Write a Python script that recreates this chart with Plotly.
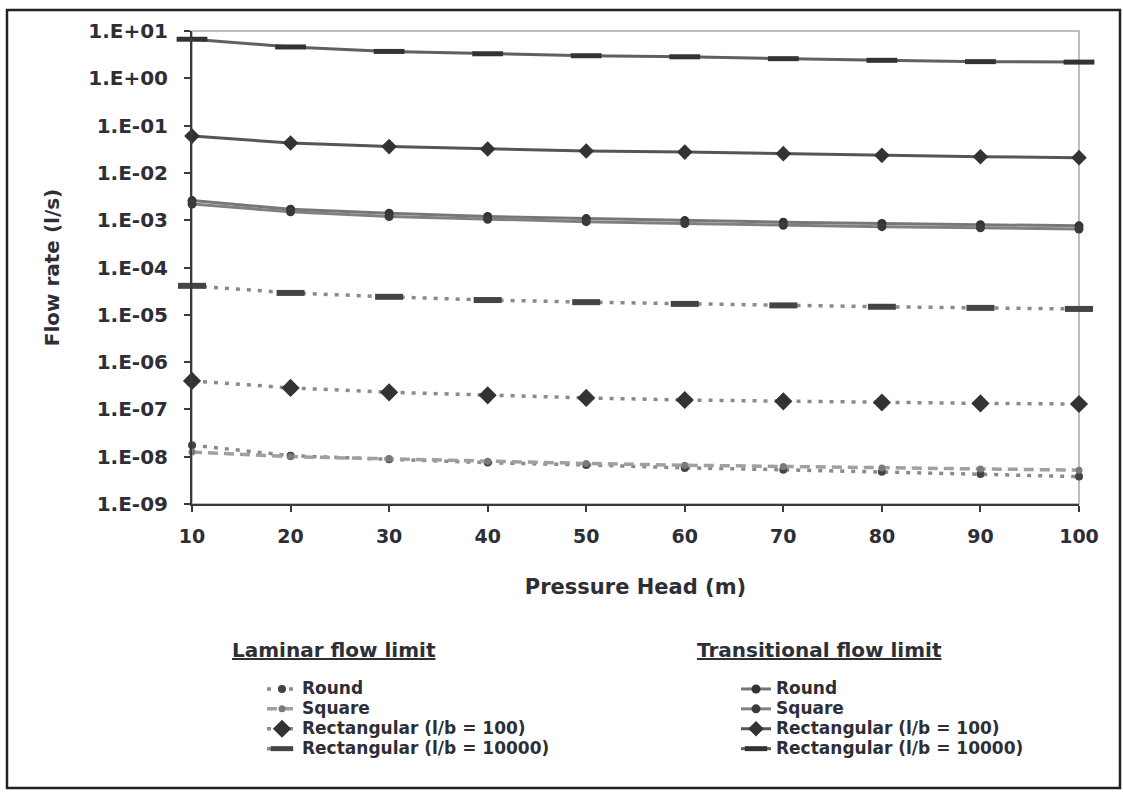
import plotly.graph_objects as go

# Pressure head (m)
pressure_head = [10, 20, 30, 40, 50, 60, 70, 80, 90, 100]

# Laminar flow limit, flow rate (l/s)
lam_round = [1.75e-8, 1.05e-8, 8.8e-9, 7.5e-9, 6.7e-9, 5.8e-9, 5.3e-9, 4.8e-9, 4.3e-9, 3.8e-9]
lam_square = [1.25e-8, 1.0e-8, 9.0e-9, 8.0e-9, 7.2e-9, 6.6e-9, 6.2e-9, 5.8e-9, 5.5e-9, 5.2e-9]
lam_rect_100 = [4.0e-7, 2.85e-7, 2.3e-7, 1.98e-7, 1.75e-7, 1.58e-7, 1.48e-7, 1.4e-7, 1.34e-7, 1.3e-7]
lam_rect_10000 = [4.1e-5, 2.9e-5, 2.4e-5, 2.05e-5, 1.85e-5, 1.7e-5, 1.58e-5, 1.48e-5, 1.4e-5, 1.33e-5]

# Transitional flow limit, flow rate (l/s)
tr_round = [2.6e-3, 1.7e-3, 1.4e-3, 1.2e-3, 1.08e-3, 9.8e-4, 9.1e-4, 8.5e-4, 8.0e-4, 7.6e-4]
tr_square = [2.2e-3, 1.5e-3, 1.2e-3, 1.05e-3, 9.3e-4, 8.5e-4, 7.8e-4, 7.3e-4, 6.9e-4, 6.5e-4]
tr_rect_100 = [6.0e-2, 4.3e-2, 3.6e-2, 3.2e-2, 2.9e-2, 2.75e-2, 2.55e-2, 2.35e-2, 2.2e-2, 2.1e-2]
tr_rect_10000 = [6.7, 4.6, 3.7, 3.3, 3.0, 2.85, 2.6, 2.4, 2.25, 2.2]

y_tick_vals = [1e-9, 1e-8, 1e-7, 1e-6, 1e-5, 1e-4, 1e-3, 1e-2, 1e-1, 1e0, 1e1]
y_tick_text = ["1.E-09", "1.E-08", "1.E-07", "1.E-06", "1.E-05", "1.E-04",
               "1.E-03", "1.E-02", "1.E-01", "1.E+00", "1.E+01"]

FONT = "DejaVu Sans"
TXT = "#2e2e36"


def nm(s):
    return f'<span style="font-size:17px">{s}</span>'


fig = go.Figure()

# laminar series: dotted / dashed grey lines
lam_specs = [
    ("Round", lam_round, dict(symbol="circle", size=8, color="#444444"), "4px,7px", "#8a8a8a"),
    ("Square", lam_square, dict(symbol="circle", size=7, color="#7a7a7a"), "10px,6px", "#a0a0a0"),
    ("Rectangular (l/b = 100)", lam_rect_100, dict(symbol="diamond", size=14, color="#333333"), "4px,7px", "#8a8a8a"),
    ("Rectangular (l/b = 10000)", lam_rect_10000,
     dict(symbol="line-ew", size=20, color="#444444", line=dict(width=6, color="#444444")), "4px,7px", "#8a8a8a"),
]
for name, vals, marker, dash, lc in lam_specs:
    fig.add_trace(go.Scatter(
        x=pressure_head, y=vals, name=nm(name), mode="lines+markers",
        line=dict(color=lc, width=3.5, dash=dash), marker=marker,
        legend="legend", cliponaxis=False))

# transitional series: solid lines
tr_specs = [
    ("Round", tr_round, dict(symbol="circle", size=9, color="#333333"), "#777777"),
    ("Square", tr_square, dict(symbol="circle", size=9, color="#3a3a3a"), "#808080"),
    ("Rectangular (l/b = 100)", tr_rect_100, dict(symbol="diamond", size=12, color="#333333"), "#555555"),
    ("Rectangular (l/b = 10000)", tr_rect_10000,
     dict(symbol="line-ew", size=22, color="#333333", line=dict(width=5, color="#333333")), "#606060"),
]
for name, vals, marker, lc in tr_specs:
    fig.add_trace(go.Scatter(
        x=pressure_head, y=vals, name=nm(name), mode="lines+markers",
        line=dict(color=lc, width=3), marker=marker,
        legend="legend2", cliponaxis=False))

W, H = 1123, 794
L, R, T, B = 192, 44, 31, 290
PW, PH = W - L - R, H - T - B


def px_x(px):
    return (px - L) / PW


def px_y(py):
    return (H - B - py) / PH


legend_common = dict(
    xanchor="left", yanchor="top", orientation="v",
    bgcolor="rgba(0,0,0,0)", borderwidth=0,
    font=dict(family=FONT, size=13, color=TXT, weight="bold"),
    itemclick=False, itemdoubleclick=False, traceorder="normal",
)

fig.update_layout(
    width=W, height=H,
    margin=dict(l=L, r=R, t=T, b=B, pad=0),
    paper_bgcolor="white", plot_bgcolor="white",
    font=dict(family=FONT, color=TXT),
    showlegend=True,
    legend=dict(x=px_x(262), y=px_y(674), **legend_common),
    legend2=dict(x=px_x(736), y=px_y(674), **legend_common),
    xaxis=dict(
        range=[10, 100], tickvals=pressure_head, showgrid=False, zeroline=False,
        showline=True, linecolor="#3a3a3a", linewidth=2,
        ticks="outside", ticklen=6, tickwidth=2, tickcolor="#3a3a3a",
        tickfont=dict(family=FONT, size=19, color=TXT, weight="bold"),
        ticklabelstandoff=8,
        title=dict(text="Pressure Head (m)", standoff=34,
                   font=dict(family=FONT, size=21, color=TXT, weight="bold")),
    ),
    yaxis=dict(
        type="log", range=[-9, 1], tickvals=y_tick_vals, ticktext=y_tick_text,
        showgrid=False, zeroline=False,
        showline=True, linecolor="#3a3a3a", linewidth=2,
        ticks="outside", ticklen=6, tickwidth=2, tickcolor="#3a3a3a",
        tickfont=dict(family=FONT, size=20, color=TXT, weight="bold"),
        ticklabelstandoff=12,
        title=dict(text="Flow rate (l/s)", standoff=23,
                   font=dict(family=FONT, size=20, color=TXT, weight="bold")),
    ),
    shapes=[
        # light border around plot area
        dict(type="rect", xref="paper", yref="paper", x0=0, x1=1, y0=0, y1=1,
             line=dict(color="#a8a8a8", width=1.5), layer="below"),
        # outer frame of the chart
        dict(type="rect", xref="paper", yref="paper",
             x0=px_x(7), x1=px_x(1120), y0=px_y(788), y1=px_y(10),
             line=dict(color="#222222", width=2.5)),
    ],
    annotations=[
        dict(text="<u>Laminar flow limit</u>", xref="paper", yref="paper",
             x=px_x(230), y=px_y(650), xanchor="left", yanchor="middle", showarrow=False,
             font=dict(family=FONT, size=20, color=TXT, weight="bold")),
        dict(text="<u>Transitional flow limit</u>", xref="paper", yref="paper",
             x=px_x(695), y=px_y(650), xanchor="left", yanchor="middle", showarrow=False,
             font=dict(family=FONT, size=20, color=TXT, weight="bold")),
    ],
)

fig.write_html("out.html")
